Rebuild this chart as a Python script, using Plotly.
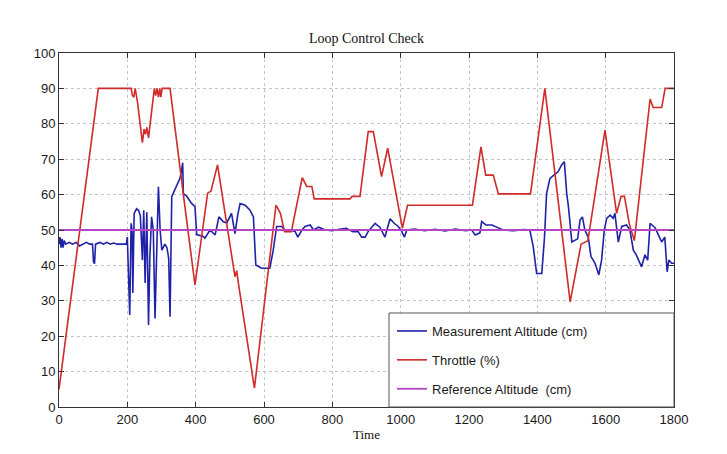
import plotly.graph_objects as go

# ---------------- data ----------------
meas_t = [0, 3, 6, 9, 12, 15, 20, 30, 40, 50, 60, 70, 80, 90, 98, 101, 104, 107, 120, 130, 140, 150, 160, 170, 180, 190, 197,
          200, 203, 207, 211, 214, 216, 220, 227, 233, 238, 244, 248, 252, 257, 262, 266, 271, 276, 281, 286, 291, 296, 301,
          310, 316, 321, 325, 330, 336, 344, 354, 359, 362, 364, 374, 388, 398, 403, 422, 427, 442, 457, 468, 481, 491, 505,
          515, 523, 530, 545, 559, 569, 576, 593, 617, 627, 637, 652, 661, 676, 691, 699, 711, 720, 735, 745, 760, 779, 800,
          820, 841, 860, 875, 886, 896, 905, 925, 939, 954, 969, 981, 993, 1003, 1011, 1018, 1040, 1070, 1100, 1130, 1160,
          1190, 1208, 1218, 1232, 1237, 1250, 1267, 1286, 1300, 1330, 1360, 1378, 1388, 1398, 1413, 1421, 1427, 1437, 1447,
          1461, 1471, 1479, 1486, 1491, 1501, 1510, 1518, 1525, 1532, 1539, 1549, 1557, 1569, 1580, 1588, 1596, 1603, 1613,
          1622, 1627, 1637, 1647, 1661, 1671, 1681, 1690, 1705, 1715, 1723, 1730, 1745, 1754, 1764, 1773, 1780, 1785, 1793,
          1800]
meas_v = [46, 48, 45, 47.5, 45, 47, 46, 46.5, 46, 46.5, 45.5, 46, 46.5, 46, 46, 41, 40.5, 46, 46.5, 46, 46.5, 46, 46.3, 46,
          46, 46, 46, 48, 38.6, 26, 51.9, 50, 32.2, 54.7, 56, 55.5, 54, 41.5, 55.6, 35, 55, 23.2, 42.5, 53.7, 50, 25, 44,
          62.2, 50, 44.3, 46, 45, 42, 25.5, 59.4, 60.8, 62.2, 64.6, 67, 69, 60.3, 59.5, 57.5, 56.6, 48.7, 48.2, 47.7, 50,
          48.6, 53.7, 52.3, 52, 54.7, 49, 54.2, 57.5, 57, 55.6, 53.7, 40.1, 39.2, 39.2, 44.3, 51, 51, 50, 50, 49.6, 48, 50,
          51, 51.4, 50, 50.8, 50, 49.8, 50.2, 50.5, 49.5, 49.6, 48, 48, 49.6, 51.9, 50.8, 48, 53.2, 51.9, 51, 49.6, 48, 50,
          50.3, 49.8, 50.2, 49.7, 50.3, 49.8, 50, 48.6, 49.2, 52.4, 51.4, 51.4, 50.6, 50, 49.8, 50.1, 50, 45.3, 37.7, 37.7,
          48, 60.3, 64.6, 65.5, 66.5, 68.4, 69.3, 60.3, 56.6, 46.6, 47, 47.5, 52.8, 53.7, 50, 48, 42.5, 40.6, 37.3, 41.5,
          50, 53.3, 54.2, 53.3, 54.7, 46.6, 51, 51.4, 50, 44.3, 42.9, 39.6, 43, 41.5, 51.9, 50.6, 48.7, 46.6, 48, 38.2, 41.5,
          40.6, 40.6]

thr_t = [0, 115, 211, 215, 219, 223, 230, 244, 249, 253, 257, 262, 279, 283, 287, 291, 295, 298, 302, 325, 364, 398, 435,
         445, 464, 515, 520, 525, 572, 635, 648, 660, 680, 712, 725, 740, 747, 852, 858, 881, 905, 920, 944, 962, 1005,
         1020, 1210, 1235, 1249, 1271, 1286, 1380, 1422, 1496, 1528, 1548, 1598, 1632, 1645, 1655, 1669, 1684, 1730, 1739,
         1764, 1774, 1800]
thr_v = [5, 90, 90, 88, 87.5, 90, 86, 74.7, 78.5, 77, 79, 76, 90, 88, 90, 87.5, 90, 87.5, 90, 90, 60, 34.5, 60.4, 61, 68.4,
         36.8, 38.5, 35, 5.3, 57, 54.7, 49.5, 49.5, 64.8, 62.3, 62.3, 58.8, 58.8, 59.5, 59.5, 77.8, 77.8, 65.1, 73.1, 50.5,
         57, 57, 73.5, 65.5, 65.5, 60.2, 60.2, 90, 29.7, 46, 47, 78.2, 54.7, 59.5, 59.5, 51.8, 47, 87, 84.6, 84.6, 90, 90]

ref_t = [0, 1800]
ref_v = [50, 50]

x_ticks = [0, 200, 400, 600, 800, 1000, 1200, 1400, 1600, 1800]
y_ticks = [0, 10, 20, 30, 40, 50, 60, 70, 80, 90, 100]

# ---------------- figure ----------------
fig = go.Figure()
fig.add_trace(go.Scatter(x=meas_t, y=meas_v, mode="lines", name="Measurement Altitude (cm)",
                         legendgroup="a", line=dict(color="#1f22a8", width=1.6)))
fig.add_trace(go.Scatter(x=thr_t, y=thr_v, mode="lines", name="Throttle (%)",
                         legendgroup="b", line=dict(color="#d02a2a", width=1.6)))
fig.add_trace(go.Scatter(x=ref_t, y=ref_v, mode="lines", name="Reference Altitude  (cm)",
                         legendgroup="c", line=dict(color="#b445c4", width=1.8)))

axis_common = dict(showline=True, linecolor="#333", linewidth=1, mirror="ticks", ticks="inside",
                   ticklen=5, tickcolor="#333", showgrid=True, gridcolor="#c4c4c4", griddash="dot",
                   gridwidth=1, zeroline=False,
                   tickfont=dict(family="Liberation Sans, Arial", size=13, color="#1a1a1a"))

fig.update_xaxes(range=[0, 1800], tickvals=x_ticks, ticktext=[str(v) for v in x_ticks],
                 title=dict(text="Time", font=dict(family="Liberation Serif, Times New Roman", size=13, color="#111"),
                            standoff=4),
                 **axis_common)
fig.update_yaxes(range=[0, 100], tickvals=y_ticks, ticktext=[str(v) for v in y_ticks], **axis_common)

# legend box (MATLAB style)
fig.add_shape(type="rect", xref="paper", yref="paper", x0=(389 - 59) / 615, x1=1, y0=0, y1=(407 - 313) / 354,
              line=dict(color="#555", width=1), fillcolor="white", layer="above")

fig.update_layout(
    width=727, height=454,
    margin=dict(l=59, r=53, t=53, b=47, autoexpand=False),
    paper_bgcolor="white", plot_bgcolor="white",
    title=dict(text="Loop Control Check", x=0.5, xref="paper", xanchor="center",
               y=1 - 38 / 454, yanchor="middle",
               font=dict(family="Liberation Serif, Times New Roman", size=14, color="#111")),
    legend=dict(x=(392 - 59) / 615, xanchor="left", y=(407 - 316) / 354, yanchor="top",
                bgcolor="rgba(0,0,0,0)", borderwidth=0, tracegroupgap=9,
                traceorder="grouped",
                font=dict(family="Liberation Sans, Arial", size=13, color="#1a1a1a")),
    showlegend=True,
)

fig.write_html("out.html")
